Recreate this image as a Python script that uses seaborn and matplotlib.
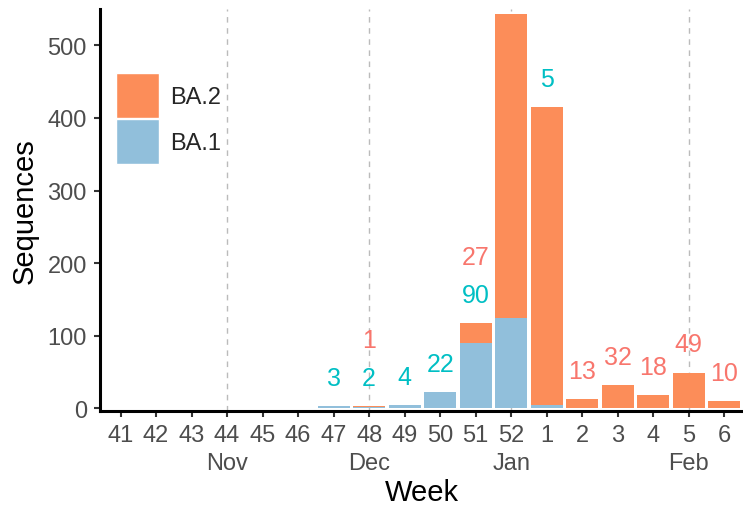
import numpy as np
import pandas as pd
import seaborn as sns
import matplotlib.pyplot as plt
from matplotlib.patches import Patch

# weekly sequence counts
weeks = ["41", "42", "43", "44", "45", "46", "47", "48", "49", "50", "51", "52",
         "1", "2", "3", "4", "5", "6"]
ba1 = [0, 0, 0, 0, 0, 0, 3, 2, 4, 22, 90, 124, 5, 0, 0, 0, 0, 0]
ba2 = [0, 0, 0, 0, 0, 0, 0, 1, 0, 0, 27, 419, 410, 13, 32, 18, 49, 10]
# labels that are visible in the chart (None = not shown)
ba1_text = [None, None, None, None, None, None, "3", "2", "4", "22", "90", None,
            "5", None, None, None, None, None]
ba2_text = [None, None, None, None, None, None, None, "1", None, None, "27", None,
            None, "13", "32", "18", "49", "10"]
month_ticks = {"44": "Nov", "48": "Dec", "52": "Jan", "5": "Feb"}

col_ba1 = "#91BFDB"
col_ba2 = "#FC8D59"
txt_ba1 = "#00BFC4"
txt_ba2 = "#F8766D"

df = pd.DataFrame({"week": weeks, "BA.1": ba1, "BA.2": ba2})
df["total"] = df["BA.1"] + df["BA.2"]

sns.set_theme(style="ticks")
plt.rcParams["font.family"] = ["Liberation Sans", "DejaVu Sans"]

fig = plt.figure(figsize=(7.43, 5.06), dpi=100)
ax = fig.add_axes([0.1346, 0.186, 0.8654, 0.794])

# month boundaries
for wk in month_ticks:
    ax.axvline(weeks.index(wk), color="#BBBBBB", linestyle=(0, (4, 4)), linewidth=1, zorder=0)

sns.barplot(data=df, x="week", y="total", order=weeks, color=col_ba2, saturation=1,
            width=0.9, errorbar=None, linewidth=0, ax=ax, zorder=2)
sns.barplot(data=df, x="week", y="BA.1", order=weeks, color=col_ba1, saturation=1,
            width=0.9, errorbar=None, linewidth=0, ax=ax, zorder=3)

for i, row in df.iterrows():
    y = row["total"] + 39
    if ba1_text[i] is not None:
        ax.text(i, y, ba1_text[i], color=txt_ba1, fontsize=18, ha="center", va="center")
        y += 52
    if ba2_text[i] is not None:
        ax.text(i, y, ba2_text[i], color=txt_ba2, fontsize=18, ha="center", va="center")

ax.set_xlim(-0.58, 17.53)
ax.set_ylim(-3.5, 550)
ax.set_yticks([0, 100, 200, 300, 400, 500])
ax.set_xticks(range(len(weeks)))
ax.set_xticklabels([w + ("\n" + month_ticks[w] if w in month_ticks else "\n") for w in weeks],
                   linespacing=1.35)

ax.tick_params(axis="both", labelsize=17, labelcolor="#4D4D4D", color="#333333",
               length=4.5, width=1.5)
ax.tick_params(axis="y", pad=5)
ax.tick_params(axis="x", pad=5)
ax.set_xlabel("Week", fontsize=21, color="black", labelpad=3)
ax.set_ylabel("Sequences", fontsize=21, color="black", labelpad=6)

for side in ["top", "right"]:
    ax.spines[side].set_visible(False)
for side in ["left", "bottom"]:
    ax.spines[side].set_linewidth(2.2)
    ax.spines[side].set_color("black")

handles = [Patch(facecolor=col_ba2, label="BA.2"), Patch(facecolor=col_ba1, label="BA.1")]
ax.legend(handles=handles, loc="upper left", bbox_to_anchor=(0.025, 0.841), frameon=False,
          fontsize=17, handlelength=1.8, handleheight=2.55, labelspacing=0.06,
          handletextpad=0.5, borderpad=0, borderaxespad=0)

fig.savefig("out.png", dpi=100)
